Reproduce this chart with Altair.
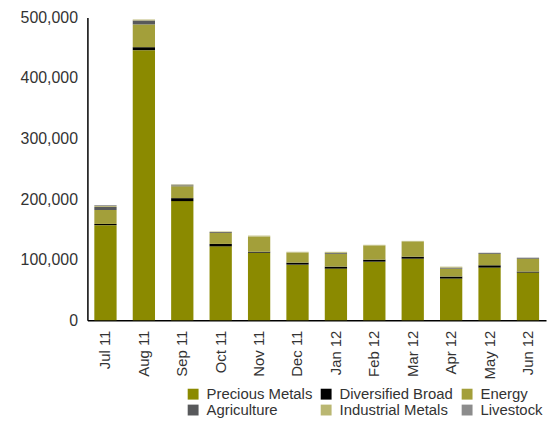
import altair as alt
import pandas as pd

months = ["Jul 11", "Aug 11", "Sep 11", "Oct 11", "Nov 11", "Dec 11",
          "Jan 12", "Feb 12", "Mar 12", "Apr 12", "May 12", "Jun 12"]
series = ["Precious Metals", "Diversified Broad", "Energy",
          "Agriculture", "Industrial Metals", "Livestock"]
colors = ["#8B8A00", "#000000", "#A39F3A", "#58595B", "#BAB772", "#8C8C8C"]

precious = [157000, 446000, 196700, 122000, 111500, 91800, 85200, 96700, 101600, 68800, 86900, 78700]
diversified = [2000, 4900, 4900, 4000, 1600, 3300, 3300, 3300, 3300, 3300, 3800, 1600]
energy = [23000, 37600, 19600, 18000, 25000, 16300, 21200, 22900, 24500, 13100, 19000, 21300]
agriculture = [5000, 6500, 1600, 1500, 0, 0, 1600, 0, 0, 1600, 1600, 1600]
industrial = [1500, 1600, 1200, 1000, 1600, 1600, 1600, 1600, 1600, 1600, 0, 0]
livestock = [1500, 0, 500, 0, 0, 0, 0, 0, 0, 0, 0, 0]

values = [precious, diversified, energy, agriculture, industrial, livestock]
rows = []
for si, (s, vals) in enumerate(zip(series, values)):
    for m, v in zip(months, vals):
        rows.append({"month": m, "series": s, "value": v, "order": si})
df = pd.DataFrame(rows)

font = "Liberation Sans"

chart = alt.Chart(df).mark_bar().encode(
    x=alt.X("month:N", sort=months, title=None,
            scale=alt.Scale(paddingInner=0.42, paddingOuter=0.18),
            axis=alt.Axis(labelAngle=-90, labelFontSize=15, labelFont=font,
                          labelColor="#333333", ticks=False, labelPadding=10,
                          domainColor="#000000", domainWidth=1.5)),
    y=alt.Y("value:Q", stack="zero", title=None,
            scale=alt.Scale(domain=[0, 500000]),
            axis=alt.Axis(values=[0, 100000, 200000, 300000, 400000, 500000],
                          format=",d", labelFontSize=16, labelFont=font,
                          labelColor="#333333", ticks=False, labelPadding=10,
                          grid=False, domainColor="#000000", domainWidth=1.5)),
    color=alt.Color("series:N", sort=series,
                    scale=alt.Scale(domain=series, range=colors),
                    legend=alt.Legend(title=None, orient="none", legendX=99, legendY=372,
                                      columns=3, direction="horizontal", gridAlign="none",
                                      symbolType="square",
                                      symbolSize=120, symbolStrokeWidth=0,
                                      labelFontSize=15, labelFont=font,
                                      labelColor="#333333", columnPadding=6,
                                      rowPadding=0, labelOffset=6)),
    order=alt.Order("order:Q", sort="ascending"),
).properties(
    width=462, height=305,
    padding={"left": 12, "top": 0, "right": 2, "bottom": 0},
).configure_view(stroke=None)

chart.save("out.html", embed_options={"renderer": "svg", "actions": False})
